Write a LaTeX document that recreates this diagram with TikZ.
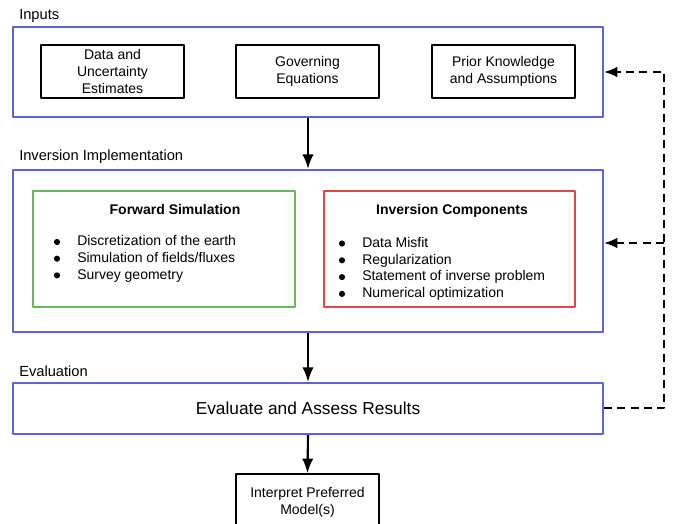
\documentclass[tikz,border=0pt]{standalone}
\usepackage{fontspec}
\setmainfont{Liberation Sans}
\usetikzlibrary{arrows.meta}
\definecolor{frameblue}{RGB}{92,100,214}
\definecolor{fwdgreen}{RGB}{110,182,96}
\definecolor{invred}{RGB}{218,72,72}
\tikzset{
	group/.style={draw=frameblue, line width=1.5pt, minimum width=442.5pt, inner sep=0pt},
	grouplabel/.style={anchor=west, inner sep=0pt, font=\fontsize{11}{13}\selectfont},
	inbox/.style={draw, line width=1.1pt, minimum width=107.25pt, minimum height=39.75pt, inner sep=0pt, align=center},
	part/.style={line width=1.2pt, minimum height=87pt, inner sep=0pt},
	parttitle/.style={inner sep=0pt, font=\fontsize{10.5}{12}\selectfont\bfseries},
	dot/.style={circle, fill, inner sep=0pt, minimum size=4.6pt},
	item/.style={anchor=base west, inner sep=0pt, font=\fontsize{10.5}{12}\selectfont},
	flow/.style={-{Latex[length=11pt,width=8.5pt]}, line width=1.6pt},
	fb/.style={-{Latex[length=10pt,width=8pt]}, line width=1.5pt, dash pattern=on 6pt off 4pt}
}
\begin{document}
\begin{tikzpicture}[x=0.75pt, y=-0.75pt, font=\fontsize{10.5}{12.75}\selectfont, line join=round]
	\clip (0,0) rectangle (676,524);
	% inputs
	\node[grouplabel] (inlab) at (19,16) {Inputs};
	\node[group, minimum height=67.5pt] (inputs) at (308,72) {};
	\node[inbox] (data) at (112.5,71.5) {Data and\\Uncertainty\\Estimates};
	\node[inbox] (gov) at (307.5,71.5) {Governing\\Equations};
	\node[inbox] (prior) at (503.5,71.5) {Prior Knowledge\\and Assumptions};
	% inversion implementation
	\node[grouplabel] (implab) at (19,157) {Inversion Implementation};
	\node[group, minimum height=121.5pt] (impl) at (308,251) {};
	\node[part, draw=fwdgreen, minimum width=196.5pt] (fwd) at (164,249) {};
	\node[part, draw=invred, minimum width=188.25pt] (inv) at (449.5,249) {};
	\node[parttitle] (fwdtitle) at (175,209) {Forward Simulation};
	\node[parttitle] (invtitle) at (452,211) {Inversion Components};
	\foreach \t [count=\i] in {Discretization of the earth, {Simulation of fields/fluxes}, Survey geometry}{
		\node[dot] (fsb\i) at (57,{242+16.7*(\i-1)}) {};
		\node[item] (fs\i) at (77,{245.8+16.7*(\i-1)}) {\t};
	}
	\foreach \t [count=\i] in {Data Misfit, Regularization, Statement of inverse problem, Numerical optimization}{
		\node[dot] (icb\i) at (342,{243.5+16.8*(\i-1)}) {};
		\node[item] (ic\i) at (362,{247.3+16.8*(\i-1)}) {\t};
	}
	% evaluation
	\node[grouplabel] (evlab) at (19,371) {Evaluation};
	\node[group, minimum height=38.25pt, font=\fontsize{13}{15}\selectfont] (eval) at (308,408.5) {Evaluate and Assess Results};
	\node[inbox, minimum height=42pt] (interp) at (307.5,502) {Interpret Preferred\\Model(s)};
	% arrows
	\draw[flow] (inputs.south) -- (impl.north);
	\draw[flow] (impl.south) -- (eval.north);
	\draw[flow] (eval.south) -- (interp.north);
	\coordinate (rail) at (664,72);
	\coordinate (implin) at ([yshift=6pt]impl.east);
	\draw[fb] (eval.east) -| (rail) -- (inputs.east);
	\draw[fb] (rail |- implin) -- (implin);
\end{tikzpicture}
\end{document}
